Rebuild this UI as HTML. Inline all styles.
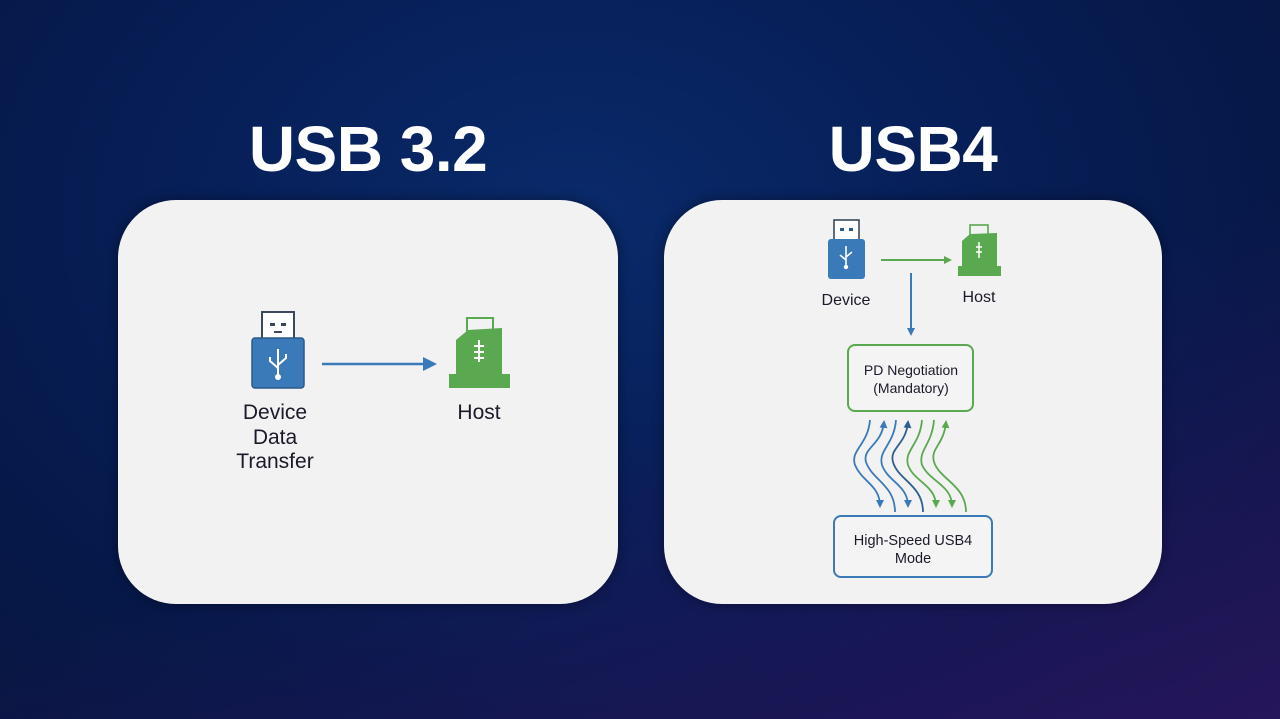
<!DOCTYPE html>
<html><head><meta charset="utf-8"><style>
html,body{margin:0;padding:0;}
body{width:1280px;height:719px;overflow:hidden;position:relative;font-family:"Liberation Sans",sans-serif;
background:radial-gradient(ellipse at 45% 30%,#0a2a6a 0%,#07205a 35%,#061848 70%,#0a1640 100%);}
.glow{position:absolute;left:0;top:0;width:1280px;height:719px;background:linear-gradient(160deg,rgba(0,0,0,0) 55%,rgba(60,20,110,0.55) 100%);}
.t{position:absolute;color:#fff;font-weight:bold;font-size:64px;text-align:center;top:112px;letter-spacing:-0.5px}
.panel{position:absolute;background:#f2f2f2;border-radius:58px;top:200px;height:404px;box-shadow:0 0 12px rgba(0,0,0,.4)}
</style></head><body>
<div class="glow"></div>
<div class="t" style="left:218px;width:300px">USB 3.2</div>
<div class="t" style="left:763px;width:300px">USB4</div>
<div class="panel" style="left:118px;width:500px"></div>
<div class="panel" style="left:664px;width:498px"></div>
<svg width="1280" height="719" style="position:absolute;left:0;top:0" font-family="Liberation Sans, sans-serif">
<defs>
<marker id="ab" markerWidth="8" markerHeight="8" refX="6" refY="4" orient="auto" markerUnits="userSpaceOnUse"><path d="M0,0 L8,4 L0,8z" fill="#3a7ab8"/></marker>
<marker id="ag" markerWidth="8" markerHeight="8" refX="6" refY="4" orient="auto" markerUnits="userSpaceOnUse"><path d="M0,0 L8,4 L0,8z" fill="#5aa84f"/></marker>
<marker id="abig" markerWidth="14" markerHeight="14" refX="10" refY="7" orient="auto" markerUnits="userSpaceOnUse"><path d="M0,0 L14,7 L0,14z" fill="#3a7ab8"/></marker>
<marker id="ad" markerWidth="8" markerHeight="8" refX="6" refY="4" orient="auto" markerUnits="userSpaceOnUse"><path d="M0,0 L8,4 L0,8z" fill="#2f5f90"/></marker>
</defs>
<rect x="262" y="312" width="32" height="27" fill="#fff" stroke="#3a4a5a" stroke-width="2"/>
<rect x="270" y="323" width="5" height="3" fill="#3a4a5a"/><rect x="281" y="323" width="5" height="3" fill="#3a4a5a"/><rect x="274" y="331" width="8" height="2" fill="#3a4a5a"/>
<rect x="252" y="338" width="52" height="50" rx="3" fill="#3a7ab8" stroke="#2a5a8a" stroke-width="1.5"/>
<g stroke="#fff" stroke-width="2" fill="none"><path d="M278 349 V376 M278 368 L270 361 V357 M278 365 L286 358 V354"/></g>
<circle cx="278" cy="377" r="3" fill="#fff"/>
<line x1="322" y1="364" x2="433" y2="364" stroke="#3a7ab8" stroke-width="2.5" marker-end="url(#abig)"/>
<rect x="467" y="318" width="26" height="20" fill="#f2f2f2" stroke="#5aa84f" stroke-width="2"/>
<path d="M456 340 L468 330 L502 328 L502 374 L456 374z" fill="#5aa84f"/>
<rect x="449" y="374" width="61" height="14" fill="#5aa84f"/>
<path d="M479 340 V362 M474 346 h10 M474 352 h10 M474 358 h10" stroke="#fff" stroke-width="2"/>
<g font-size="21" fill="#1a1a2a" text-anchor="middle">
<text x="275" y="419">Device</text><text x="275" y="444">Data</text><text x="275" y="468">Transfer</text>
<text x="479" y="419">Host</text></g>
<rect x="834" y="220" width="25" height="20" fill="#fff" stroke="#3a4a5a" stroke-width="1.6"/>
<rect x="840" y="228" width="4" height="3" fill="#2a5a8a"/><rect x="849" y="228" width="4" height="3" fill="#2a5a8a"/>
<rect x="828" y="239" width="37" height="40" rx="3" fill="#3a7ab8"/>
<path d="M846 246 V266 M846 260 l-6 -5 M846 257 l6 -5" stroke="#fff" stroke-width="1.6"/><circle cx="846" cy="267" r="2.2" fill="#fff"/>
<text x="846" y="305" font-size="16" fill="#1a1a2a" text-anchor="middle">Device</text>
<line x1="881" y1="260" x2="950" y2="260" stroke="#5aa84f" stroke-width="2" marker-end="url(#ag)"/>
<rect x="970" y="225" width="18" height="14" fill="#f2f2f2" stroke="#5aa84f" stroke-width="1.6"/>
<path d="M962 241 L970 234 L997 233 L997 266 L962 266z" fill="#5aa84f"/>
<rect x="958" y="266" width="43" height="10" fill="#5aa84f"/>
<path d="M979 242 V258 M976 247 h6 M976 252 h6" stroke="#fff" stroke-width="1.5"/>
<text x="979" y="302" font-size="16" fill="#1a1a2a" text-anchor="middle">Host</text>
<line x1="911" y1="273" x2="911" y2="334" stroke="#3a7ab8" stroke-width="2" marker-end="url(#ab)"/>
<rect x="848" y="345" width="125" height="66" rx="7" fill="#f4f4f4" stroke="#5aa84f" stroke-width="2"/>
<text x="911" y="375" font-size="14" fill="#1a1a2a" text-anchor="middle">PD Negotiation</text>
<text x="911" y="393" font-size="14" fill="#1a1a2a" text-anchor="middle">(Mandatory)</text>
<g fill="none" stroke-width="1.8">
<path d="M870 420 C868 445,850 450,855 465 C862 482,880 485,880 506" stroke="#3a7ab8" marker-end="url(#ab)"/>
<path d="M895 512 C895 485,872 480,866 462 C862 448,882 445,884 422" stroke="#3a7ab8" marker-end="url(#ab)"/>
<path d="M896 420 C894 445,878 450,882 465 C888 482,908 485,908 506" stroke="#3a7ab8" marker-end="url(#ab)"/>
<path d="M923 512 C923 485,898 480,893 462 C889 448,906 445,908 422" stroke="#2f5f90" marker-end="url(#ad)"/>
<path d="M922 420 C920 445,904 450,908 465 C914 482,936 485,936 506" stroke="#5aa84f" marker-end="url(#ag)"/>
<path d="M934 420 C932 445,918 450,922 465 C930 482,952 485,952 506" stroke="#5aa84f" marker-end="url(#ag)"/>
<path d="M966 512 C966 485,940 480,934 462 C930 448,944 445,946 422" stroke="#5aa84f" marker-end="url(#ag)"/>
</g>
<rect x="834" y="516" width="158" height="61" rx="7" fill="#f4f4f4" stroke="#3a7ab8" stroke-width="2"/>
<text x="913" y="545" font-size="14.5" fill="#1a1a2a" text-anchor="middle">High-Speed USB4</text>
<text x="913" y="563" font-size="14.5" fill="#1a1a2a" text-anchor="middle">Mode</text>
</svg>
</body></html>
